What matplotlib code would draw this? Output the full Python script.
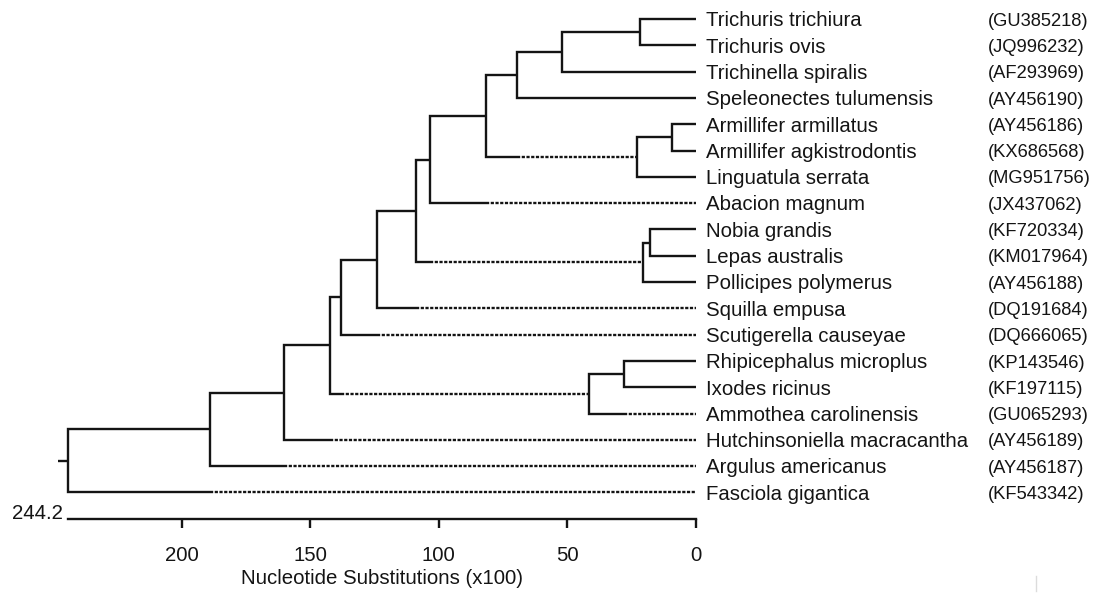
"""
Phylogenetic tree (MegAlign style) with a scale bar in nucleotide substitutions
"""
import matplotlib
matplotlib.use('Agg')
import matplotlib.pyplot as plt
from matplotlib.lines import Line2D

plt.rcParams['font.family'] = ['Liberation Sans', 'DejaVu Sans']
plt.rcParams['lines.scale_dashes'] = False

# ── data ─────────────────────────────────────────────────────────────────────
taxa = ['Trichuris trichiura', 'Trichuris ovis', 'Trichinella spiralis',
        'Speleonectes tulumensis', 'Armillifer armillatus',
        'Armillifer agkistrodontis', 'Linguatula serrata', 'Abacion magnum',
        'Nobia grandis', 'Lepas australis', 'Pollicipes polymerus',
        'Squilla empusa', 'Scutigerella causeyae', 'Rhipicephalus microplus',
        'Ixodes ricinus', 'Ammothea carolinensis',
        'Hutchinsoniella macracantha', 'Argulus americanus',
        'Fasciola gigantica']
accessions = ['GU385218', 'JQ996232', 'AF293969', 'AY456190', 'AY456186',
              'KX686568', 'MG951756', 'JX437062', 'KF720334', 'KM017964',
              'AY456188', 'DQ191684', 'DQ666065', 'KP143546', 'KF197115',
              'GU065293', 'AY456189', 'AY456187', 'KF543342']

# internal nodes (upper child, lower child, height in x100 substitutions)
node_names  = ['n12', 'n123', 'n1234', 'n56', 'n567', 'nA', 'nB', 'n910',
               'n911', 'nC', 'nD', 'nE', 'n1415', 'n1416', 'nF', 'nG', 'nH',
               'root']
node_upper  = ['Trichuris trichiura', 'n12', 'n123', 'Armillifer armillatus',
               'n56', 'n1234', 'nA', 'Nobia grandis', 'n910', 'nB', 'nC', 'nD',
               'Rhipicephalus microplus', 'n1415', 'nE', 'nF', 'nG', 'nH']
node_lower  = ['Trichuris ovis', 'Trichinella spiralis',
               'Speleonectes tulumensis', 'Armillifer agkistrodontis',
               'Linguatula serrata', 'n567', 'Abacion magnum',
               'Lepas australis', 'Pollicipes polymerus', 'n911',
               'Squilla empusa', 'Scutigerella causeyae', 'Ixodes ricinus',
               'Ammothea carolinensis', 'n1416',
               'Hutchinsoniella macracantha', 'Argulus americanus',
               'Fasciola gigantica']
node_height = [21.8, 52.0, 69.5, 9.4, 23.1, 81.6, 103.5, 17.8, 20.5, 108.8,
               124.1, 137.9, 28.1, 41.7, 142.5, 160.0, 189.0, 244.2]
# lower branches drawn dashed past the sibling node
dashed_lower = ['n567', 'Abacion magnum', 'n911', 'Squilla empusa',
                'Scutigerella causeyae', 'n1416', 'Ammothea carolinensis',
                'Hutchinsoniella macracantha', 'Argulus americanus',
                'Fasciola gigantica']

scale_ticks = [200, 150, 100, 50, 0]
scale_max   = 244.2

# ── layout ───────────────────────────────────────────────────────────────────
ypos = {t: i for i, t in enumerate(taxa)}
xpos = {t: 0.0 for t in taxa}
for n, u, l, h in zip(node_names, node_upper, node_lower, node_height):
    ypos[n] = (ypos[u] + ypos[l]) / 2
    xpos[n] = h

INK = '#141414'
LW = 1.7
FS = 14.7
FS_ACC = 13.2

fig = plt.figure(figsize=(10.94, 5.95), dpi=100)
ax = fig.add_axes([0, 1 - 519 / 595, 1, 519 / 595])
ax.set_xlim(270.6, -154.7)
ax.set_ylim(19.01, -0.722)

for n, u, l in zip(node_names, node_upper, node_lower):
    h = xpos[n]
    split = xpos[u] if l in dashed_lower else xpos[l]
    ax.plot([xpos[u], h, h, split], [ypos[u], ypos[u], ypos[l], ypos[l]],
            color=INK, lw=LW, solid_joinstyle='miter', solid_capstyle='butt')
    if l in dashed_lower:
        ax.plot([split, xpos[l]], [ypos[l], ypos[l]], color=INK, lw=LW,
                linestyle=(0, (2.3, 1.1)), dash_capstyle='butt')

# root stub
ax.plot([scale_max, scale_max + 3.9], [ypos['root']] * 2, color=INK, lw=LW,
        solid_capstyle='butt')

# leaf labels + accessions
acc_tr = ax.get_yaxis_transform()
for t, acc in zip(taxa, accessions):
    ax.annotate(t, xy=(0, ypos[t]), xytext=(7.2, -5.3), textcoords='offset points',
                ha='left', va='baseline', fontsize=FS, color=INK)
    ax.annotate(f'({acc})', xy=(988 / 1094, ypos[t]), xycoords=acc_tr,
                xytext=(0, -4.8), textcoords='offset points',
                ha='left', va='baseline', fontsize=FS_ACC, color=INK)

# scale bar = bottom spine
for s in ['top', 'left', 'right']:
    ax.spines[s].set_visible(False)
ax.spines['bottom'].set_bounds(0, scale_max)
ax.spines['bottom'].set_linewidth(LW)
ax.spines['bottom'].set_color(INK)
ax.set_yticks([])
ax.set_xticks(scale_ticks)
ax.tick_params(axis='x', direction='out', length=6.5, width=LW, color=INK,
               labelsize=FS, labelcolor=INK, pad=13)
ax.set_xlabel('Nucleotide Substitutions (x100)', fontsize=FS, color=INK)
ax.xaxis.set_label_coords(382 / 1094, -59 / 519)
ax.xaxis.label.set_va('center')

ax.annotate(f'{scale_max}', xy=(scale_max, 0), xycoords=ax.get_xaxis_transform(),
            xytext=(-3.6, 0), textcoords='offset points',
            ha='right', va='baseline', fontsize=FS, color=INK)

# faint scan mark bottom right
fig.add_artist(Line2D([1036 / 1094] * 2, [1 - 576 / 595, 1 - 591 / 595],
                      color='#dcdcdc', lw=1))

plt.savefig('out.png', dpi=100, facecolor='white')
plt.close()
